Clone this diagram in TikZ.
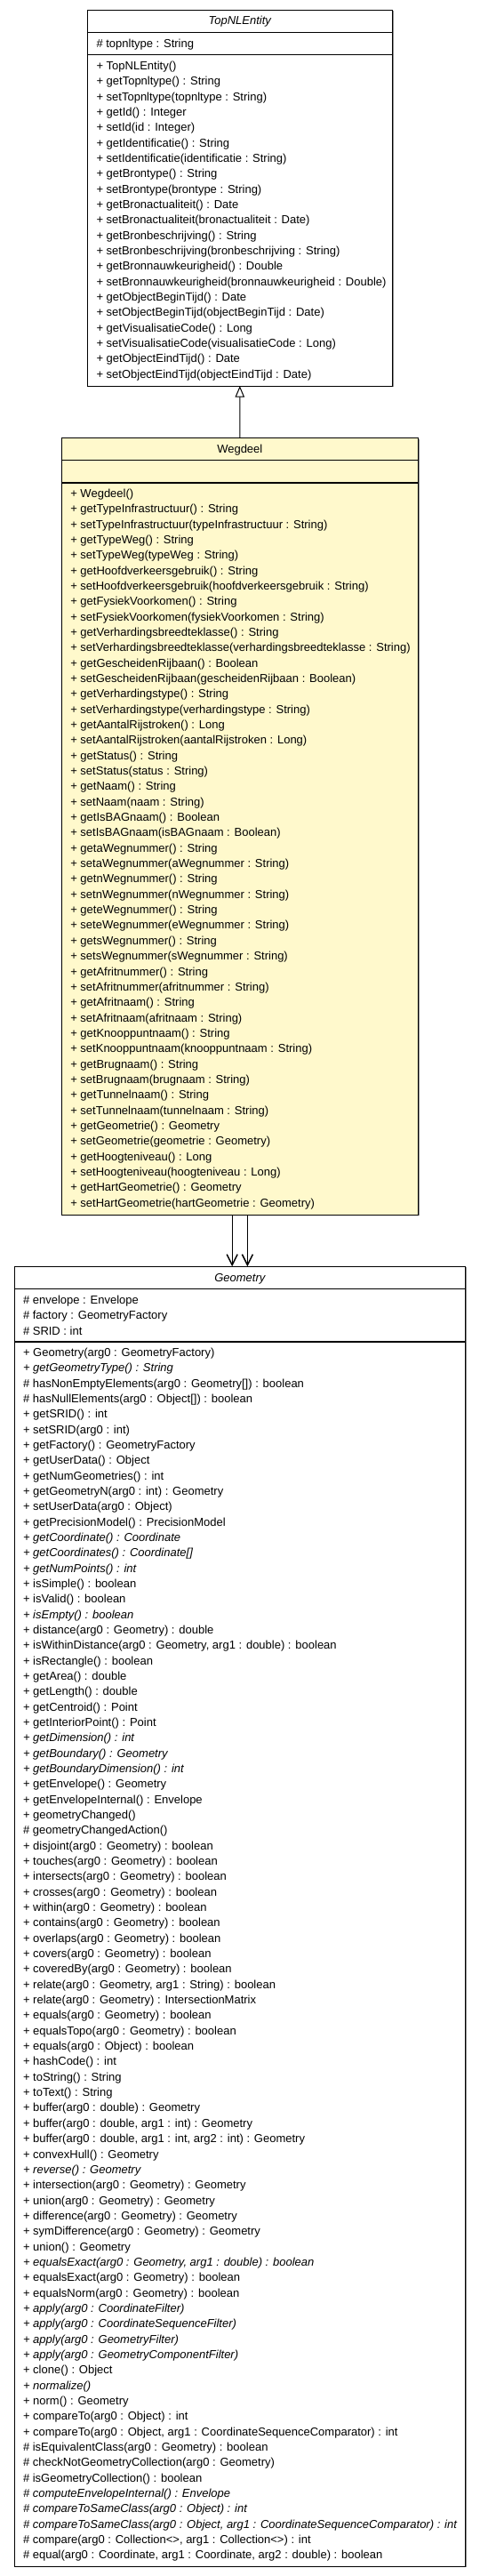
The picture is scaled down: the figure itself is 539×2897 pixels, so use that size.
\documentclass[tikz,border=0pt]{standalone}
\usepackage{fontspec}
\setmainfont{Liberation Sans}
\usetikzlibrary{arrows.meta,shadows}
\definecolor{wegfill}{RGB}{255,249,204}
\begin{document}
\begin{tikzpicture}[x=1pt,y=-1pt,
  box/.style={draw=black, line width=1pt, anchor=north west, inner sep=0pt, outer sep=0pt,
    drop shadow={shadow xshift=1.1pt, shadow yshift=-1.1pt, fill=black!45, opacity=1}},
  txt/.style={anchor=base west, inner sep=0pt, font=\fontsize{13}{15}\selectfont},
  ttl/.style={anchor=base, inner sep=0pt, font=\fontsize{13}{15}\selectfont},
  sep/.style={line width=1.4pt}]
\useasboundingbox (0,0) rectangle (539,2897);
\fill[white] (0,0) rectangle (539,2897);

% ---------- TopNLEntity ----------
\node[box, fill=white, minimum width=343.2pt, minimum height=423pt] (topnl) at (98.2,11) {};
\draw[sep] (98.2,36.7) -- (441.4,36.7);
\draw[sep] (98.2,61.7) -- (441.4,61.7);
\node[ttl, font=\fontsize{13}{15}\selectfont\itshape] (topnlT) at (269.8,27.4) {TopNLEntity};
\node[txt] (topnlA1) at (108.3,53.6) {\# topnltype : String};
\foreach \t [count=\i] in {
{+ TopNLEntity()},
{+ getTopnltype() : String},
{+ setTopnltype(topnltype : String)},
{+ getId() : Integer},
{+ setId(id : Integer)},
{+ getIdentificatie() : String},
{+ setIdentificatie(identificatie : String)},
{+ getBrontype() : String},
{+ setBrontype(brontype : String)},
{+ getBronactualiteit() : Date},
{+ setBronactualiteit(bronactualiteit : Date)},
{+ getBronbeschrijving() : String},
{+ setBronbeschrijving(bronbeschrijving : String)},
{+ getBronnauwkeurigheid() : Double},
{+ setBronnauwkeurigheid(bronnauwkeurigheid : Double)},
{+ getObjectBeginTijd() : Date},
{+ setObjectBeginTijd(objectBeginTijd : Date)},
{+ getVisualisatieCode() : Long},
{+ setVisualisatieCode(visualisatieCode : Long)},
{+ getObjectEindTijd() : Date},
{+ setObjectEindTijd(objectEindTijd : Date)}}
  \node[txt] (topnlO\i) at (108.3,{78.6+(\i-1)*17.32}) {\t};

% ---------- Wegdeel ----------
\node[box, fill=wegfill, minimum width=401.6pt, minimum height=873.3pt] (wegdeel) at (69,492.7) {};
\draw[sep] (69,517.7) -- (470.6,517.7);
\draw[sep] (69,543) -- (470.6,543);
\node[ttl] (wegdeelT) at (269.8,509.5) {Wegdeel};
\foreach \t [count=\i] in {
{+ Wegdeel()},
{+ getTypeInfrastructuur() : String},
{+ setTypeInfrastructuur(typeInfrastructuur : String)},
{+ getTypeWeg() : String},
{+ setTypeWeg(typeWeg : String)},
{+ getHoofdverkeersgebruik() : String},
{+ setHoofdverkeersgebruik(hoofdverkeersgebruik : String)},
{+ getFysiekVoorkomen() : String},
{+ setFysiekVoorkomen(fysiekVoorkomen : String)},
{+ getVerhardingsbreedteklasse() : String},
{+ setVerhardingsbreedteklasse(verhardingsbreedteklasse : String)},
{+ getGescheidenRijbaan() : Boolean},
{+ setGescheidenRijbaan(gescheidenRijbaan : Boolean)},
{+ getVerhardingstype() : String},
{+ setVerhardingstype(verhardingstype : String)},
{+ getAantalRijstroken() : Long},
{+ setAantalRijstroken(aantalRijstroken : Long)},
{+ getStatus() : String},
{+ setStatus(status : String)},
{+ getNaam() : String},
{+ setNaam(naam : String)},
{+ getIsBAGnaam() : Boolean},
{+ setIsBAGnaam(isBAGnaam : Boolean)},
{+ getaWegnummer() : String},
{+ setaWegnummer(aWegnummer : String)},
{+ getnWegnummer() : String},
{+ setnWegnummer(nWegnummer : String)},
{+ geteWegnummer() : String},
{+ seteWegnummer(eWegnummer : String)},
{+ getsWegnummer() : String},
{+ setsWegnummer(sWegnummer : String)},
{+ getAfritnummer() : String},
{+ setAfritnummer(afritnummer : String)},
{+ getAfritnaam() : String},
{+ setAfritnaam(afritnaam : String)},
{+ getKnooppuntnaam() : String},
{+ setKnooppuntnaam(knooppuntnaam : String)},
{+ getBrugnaam() : String},
{+ setBrugnaam(brugnaam : String)},
{+ getTunnelnaam() : String},
{+ setTunnelnaam(tunnelnaam : String)},
{+ getGeometrie() : Geometry},
{+ setGeometrie(geometrie : Geometry)},
{+ getHoogteniveau() : Long},
{+ setHoogteniveau(hoogteniveau : Long)},
{+ getHartGeometrie() : Geometry},
{+ setHartGeometrie(hartGeometrie : Geometry)}}
  \node[txt] (wegdeelO\i) at (79.1,{559.6+(\i-1)*17.335}) {\t};

% ---------- Geometry ----------
\node[box, fill=white, minimum width=507.6pt, minimum height=1461.7pt] (geometry) at (16,1424.3) {};
\draw[sep] (16,1449.3) -- (523.6,1449.3);
\draw[sep] (16,1509) -- (523.6,1509);
\node[ttl, font=\fontsize{13}{15}\selectfont\itshape] (geometryT) at (269.8,1441.4) {Geometry};
\node[txt] (geometryA1) at (25.8,1466.3) {\# envelope : Envelope};
\node[txt] (geometryA2) at (25.8,1483.6) {\# factory : GeometryFactory};
\node[txt] (geometryA3) at (25.8,1501) {\# SRID : int};
\foreach \t [count=\i] in {
{+ Geometry(arg0 : GeometryFactory)},
{\itshape + getGeometryType() : String},
{\# hasNonEmptyElements(arg0 : Geometry[]) : boolean},
{\# hasNullElements(arg0 : Object[]) : boolean},
{+ getSRID() : int},
{+ setSRID(arg0 : int)},
{+ getFactory() : GeometryFactory},
{+ getUserData() : Object},
{+ getNumGeometries() : int},
{+ getGeometryN(arg0 : int) : Geometry},
{+ setUserData(arg0 : Object)},
{+ getPrecisionModel() : PrecisionModel},
{\itshape + getCoordinate() : Coordinate},
{\itshape + getCoordinates() : Coordinate[]},
{\itshape + getNumPoints() : int},
{+ isSimple() : boolean},
{+ isValid() : boolean},
{\itshape + isEmpty() : boolean},
{+ distance(arg0 : Geometry) : double},
{+ isWithinDistance(arg0 : Geometry, arg1 : double) : boolean},
{+ isRectangle() : boolean},
{+ getArea() : double},
{+ getLength() : double},
{+ getCentroid() : Point},
{+ getInteriorPoint() : Point},
{\itshape + getDimension() : int},
{\itshape + getBoundary() : Geometry},
{\itshape + getBoundaryDimension() : int},
{+ getEnvelope() : Geometry},
{+ getEnvelopeInternal() : Envelope},
{+ geometryChanged()},
{\# geometryChangedAction()},
{+ disjoint(arg0 : Geometry) : boolean},
{+ touches(arg0 : Geometry) : boolean},
{+ intersects(arg0 : Geometry) : boolean},
{+ crosses(arg0 : Geometry) : boolean},
{+ within(arg0 : Geometry) : boolean},
{+ contains(arg0 : Geometry) : boolean},
{+ overlaps(arg0 : Geometry) : boolean},
{+ covers(arg0 : Geometry) : boolean},
{+ coveredBy(arg0 : Geometry) : boolean},
{+ relate(arg0 : Geometry, arg1 : String) : boolean},
{+ relate(arg0 : Geometry) : IntersectionMatrix},
{+ equals(arg0 : Geometry) : boolean},
{+ equalsTopo(arg0 : Geometry) : boolean},
{+ equals(arg0 : Object) : boolean},
{+ hashCode() : int},
{+ toString() : String},
{+ toText() : String},
{+ buffer(arg0 : double) : Geometry},
{+ buffer(arg0 : double, arg1 : int) : Geometry},
{+ buffer(arg0 : double, arg1 : int, arg2 : int) : Geometry},
{+ convexHull() : Geometry},
{\itshape + reverse() : Geometry},
{+ intersection(arg0 : Geometry) : Geometry},
{+ union(arg0 : Geometry) : Geometry},
{+ difference(arg0 : Geometry) : Geometry},
{+ symDifference(arg0 : Geometry) : Geometry},
{+ union() : Geometry},
{\itshape + equalsExact(arg0 : Geometry, arg1 : double) : boolean},
{+ equalsExact(arg0 : Geometry) : boolean},
{+ equalsNorm(arg0 : Geometry) : boolean},
{\itshape + apply(arg0 : CoordinateFilter)},
{\itshape + apply(arg0 : CoordinateSequenceFilter)},
{\itshape + apply(arg0 : GeometryFilter)},
{\itshape + apply(arg0 : GeometryComponentFilter)},
{+ clone() : Object},
{\itshape + normalize()},
{+ norm() : Geometry},
{+ compareTo(arg0 : Object) : int},
{+ compareTo(arg0 : Object, arg1 : CoordinateSequenceComparator) : int},
{\# isEquivalentClass(arg0 : Geometry) : boolean},
{\# checkNotGeometryCollection(arg0 : Geometry)},
{\# isGeometryCollection() : boolean},
{\itshape \# computeEnvelopeInternal() : Envelope},
{\itshape \# compareToSameClass(arg0 : Object) : int},
{\itshape \# compareToSameClass(arg0 : Object, arg1 : CoordinateSequenceComparator) : int},
{\# compare(arg0 : Collection<>, arg1 : Collection<>) : int},
{\# equal(arg0 : Coordinate, arg1 : Coordinate, arg2 : double) : boolean}}
  \node[txt] (geometryO\i) at (25.8,{1525.3+(\i-1)*17.34}) {\t};

% ---------- connectors ----------
\draw[line width=1pt, -{Triangle[open, length=12.7pt, width=10.5pt, line width=1pt]}]
  (wegdeel.north) -- (topnl.south);
\draw[line width=1.2pt, -{Straight Barb[length=12pt, width=12pt, line width=1.5pt]}]
  ([xshift=-8.6pt]wegdeel.south) -- ([xshift=-8.6pt]geometry.north);
\draw[line width=1.2pt, -{Straight Barb[length=12pt, width=12pt, line width=1.5pt]}]
  ([xshift=8.6pt]wegdeel.south) -- ([xshift=8.6pt]geometry.north);
\end{tikzpicture}
\end{document}
